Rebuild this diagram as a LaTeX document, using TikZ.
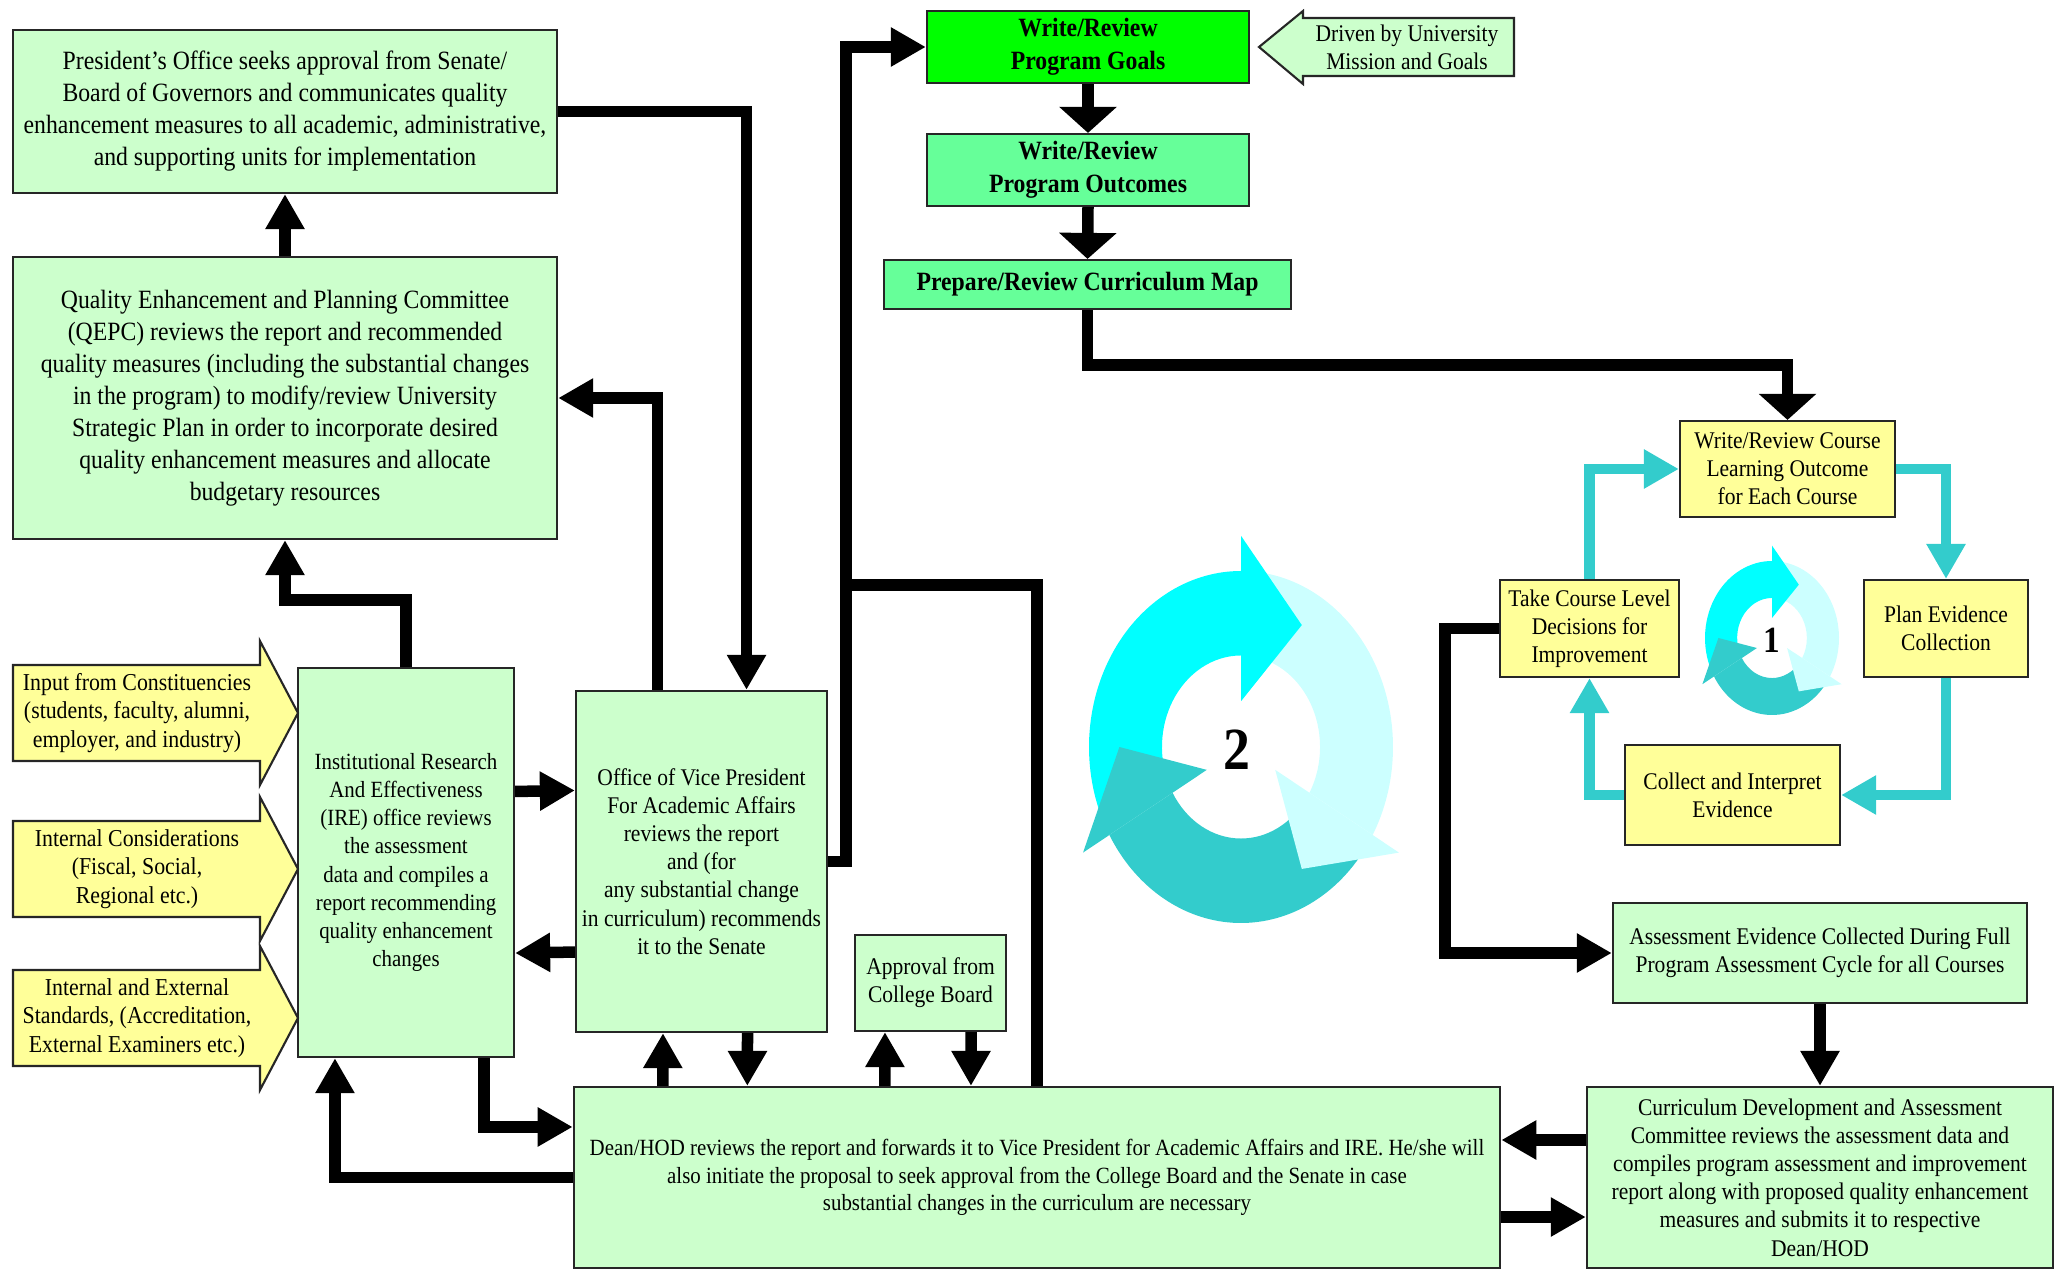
\documentclass[tikz,border=0pt]{standalone}
\usepackage{fontspec}
\setmainfont[FakeStretch=0.9]{Liberation Serif}
\usetikzlibrary{arrows.meta}

\definecolor{palegreen}{HTML}{CCFFCC}
\definecolor{brightgreen}{HTML}{00FF00}
\definecolor{midgreen}{HTML}{66FF99}
\definecolor{paleyellow}{HTML}{FFFF99}
\definecolor{cyclecyan}{HTML}{00FFFF}
\definecolor{cyclelight}{HTML}{CCFFFF}
\definecolor{cycleteal}{HTML}{33CCCC}

\begin{document}
\begin{tikzpicture}[x=0.01cm, y=-0.01cm,
  txt/.style={align=center, font=\fontsize{6.8}{8}\selectfont},
  box/.style={txt, draw=black!85, line width=0.6pt, inner sep=0pt},
  gbox/.style={box, fill=palegreen},
  ybox/.style={box, fill=paleyellow},
  bigtxt/.style={font=\fontsize{7.5}{9.1}\selectfont},
  boldtxt/.style={font=\bfseries\fontsize{7.5}{9.4}\selectfont},
  flow/.style={line width=1.15mm, -{Triangle[length=3.5mm, width=3.7mm]}},
  wideflow/.style={line width=1.15mm, -{Triangle[length=2.6mm, width=5.6mm]}},
  cflow/.style={line width=1.05mm, cycleteal, -{Triangle[length=3.5mm, width=3.7mm]}}]
  \useasboundingbox (0,0) rectangle (2060,1270);

  % Program level
  \node[box, boldtxt, fill=brightgreen, minimum width=3.22cm, minimum height=0.72cm] (goals) at (1088,47) {Write/Review\\Program Goals};
  \node[box, boldtxt, fill=midgreen, minimum width=3.22cm, minimum height=0.72cm] (outc) at (1088,170) {Write/Review\\Program Outcomes};
  \node[box, boldtxt, fill=midgreen, minimum width=4.07cm, minimum height=0.49cm] (cmap) at (1087.5,284.5) {Prepare/Review Curriculum Map};
  \filldraw[fill=palegreen, draw=black!85, line width=0.6pt] (1514,18) -- (1303,18) -- (1303,11) -- (1259,47) -- (1303,84) -- (1303,76) -- (1514,76) -- cycle;
  \node[txt] (driven) at (1407,47) {Driven by University\\Mission and Goals};

  % University level
  \node[gbox, bigtxt, minimum width=5.44cm, minimum height=1.63cm] (pres) at (285,111.5) {President's Office seeks approval from Senate/\\Board of Governors and communicates quality\\enhancement measures to all academic, administrative,\\and supporting units for implementation};
  \node[gbox, bigtxt, minimum width=5.44cm, minimum height=2.82cm] (qepc) at (285,398) {Quality Enhancement and Planning Committee\\(QEPC) reviews the report and recommended\\quality measures (including the substantial changes\\in the program) to modify/review University\\Strategic Plan in order to incorporate desired\\quality enhancement measures and allocate\\budgetary resources};
  \node[gbox, font=\fontsize{6.6}{8}\selectfont, minimum width=2.16cm, minimum height=3.89cm] (ire) at (406,862.5) {Institutional Research\\And Effectiveness\\(IRE) office reviews\\the assessment\\data and compiles a\\report recommending\\quality enhancement\\changes};
  \node[gbox, minimum width=2.51cm, minimum height=3.41cm] (vp) at (701.5,861.5) {Office of Vice President\\For Academic Affairs\\reviews the report\\and (for\\any substantial change\\in curriculum) recommends\\it to the Senate};
  \node[gbox, minimum width=1.51cm, minimum height=0.96cm] (appr) at (930.5,983) {Approval from\\College Board};
  \node[gbox, font=\fontsize{6.6}{7.8}\selectfont, minimum width=9.26cm, minimum height=1.81cm] (dean) at (1037,1177.5) {Dean/HOD reviews the report and forwards it to Vice President for Academic Affairs and IRE. He/she will\\also initiate the proposal to seek approval from the College Board and the Senate in case\\substantial changes in the curriculum are necessary};

  % Inputs
  \foreach \yc/\nm/\txt in {713/inA/{Input from Constituencies\\(students, faculty, alumni,\\employer, and industry)}, 869/inB/{Internal Considerations\\(Fiscal, Social,\\Regional etc.)}, 1018/inC/{Internal and External\\Standards, (Accreditation,\\External Examiners etc.)}} {
    \filldraw[fill=paleyellow, draw=black!85, line width=0.6pt] (13,\yc-48) -- (260,\yc-48) -- (260,\yc-72) -- (298,\yc) -- (260,\yc+72) -- (260,\yc+48) -- (13,\yc+48) -- cycle;
    \node[txt, font=\fontsize{6.9}{8.1}\selectfont] (\nm) at (137,\yc) {\txt};
  }

  % Course level
  \node[ybox, minimum width=2.15cm, minimum height=0.96cm] (wrc) at (1787.5,469) {Write/Review Course\\Learning Outcome\\for Each Course};
  \node[ybox, minimum width=1.79cm, minimum height=0.97cm] (tcl) at (1589.5,628.5) {Take Course Level\\Decisions for\\Improvement};
  \node[ybox, minimum width=1.64cm, minimum height=0.97cm] (pec) at (1946,628.5) {Plan Evidence\\Collection};
  \node[ybox, minimum width=2.15cm, minimum height=1.0cm] (cie) at (1732.5,795) {Collect and Interpret\\Evidence};
  \node[gbox, minimum width=4.14cm, minimum height=1.0cm] (ae) at (1820,953) {Assessment Evidence Collected During Full\\Program Assessment Cycle for all Courses};
  \node[gbox, minimum width=4.66cm, minimum height=1.81cm] (cdac) at (1820,1177.5) {Curriculum Development and Assessment\\Committee reviews the assessment data and\\compiles program assessment and improvement\\report along with proposed quality enhancement\\measures and submits it to respective\\Dean/HOD};

  % Cycle symbols
  \foreach \cx/\cy/\sx/\sy in {1241/747/152/176, 1772/638/67/77} {
    \begin{scope}[shift={(\cx,\cy)}, xscale=\sx, yscale=-\sy]
      \foreach \col/\a/\b in {cyclecyan/205/90, cyclelight/85/-30, cycleteal/-35/-150}
        \fill[\col] (\a:1) arc[start angle=\a, end angle=\b, radius=1] -- (\b:0.52) arc[start angle=\b, end angle=\a, radius=0.52] -- cycle;
      \foreach \col/\b in {cyclecyan/90, cyclelight/-30, cycleteal/-150}
        \fill[\col] (\b:1.2) -- ({\b-30}:0.8) -- (\b:0.26) -- cycle;
    \end{scope}
  }
  \node[font=\bfseries\fontsize{17}{17}\selectfont] (two) at (1237,750) {2};
  \node[font=\bfseries\fontsize{10.5}{10.5}\selectfont] (one) at (1772,640) {1};

  % Black connectors
  \draw[flow] (qepc.north) -- (pres.south);
  \draw[flow] (ire.north) -- ++(0,-67) -| (qepc.south);
  \draw[flow] ([xshift=-4.4mm]vp.north) |- (qepc.east);
  \draw[flow] (pres.east) -| ([xshift=4.5mm]vp.north);
  \draw[flow] (vp.east) -- ++(18,0) |- (goals.west);
  \coordinate (join) at (845,585);
  \draw[line width=1.15mm] (dean.north) |- (join);
  \draw[flow] ([yshift=7.1mm]ire.east) -- ([yshift=7.1mm]vp.west);
  \draw[flow] ([yshift=-9.05mm]vp.west) -- ([yshift=-9.05mm]ire.east);
  \draw[flow] ([xshift=7.8mm]ire.south) |- ([yshift=5.05mm]dean.west);
  \draw[flow] (dean.west) -| ([xshift=-7.1mm]ire.south);
  \draw[flow] ([xshift=-37.4mm]dean.north) -- ([xshift=-3.85mm]vp.south);
  \draw[flow] ([xshift=4.6mm]vp.south) -- ([xshift=-28.95mm]dean.north);
  \draw[flow] ([xshift=-15.2mm]dean.north) -- ([xshift=-4.55mm]appr.south);
  \draw[flow] ([xshift=4.05mm]appr.south) -- ([xshift=-6.6mm]dean.north);
  \draw[flow] ([yshift=3.75mm]cdac.west) -- ([yshift=3.75mm]dean.east);
  \draw[flow] ([yshift=-3.95mm]dean.east) -- ([yshift=-3.95mm]cdac.west);
  \draw[flow] (ae.south) -- (cdac.north);
  \draw[flow] (tcl.west) -- ++(-54,0) |- (ae.west);
  \draw[wideflow] (goals.south) -- (outc.north);
  \draw[wideflow] (outc.south) -- (cmap.north);
  \draw[wideflow] (cmap.south) -- ++(0,55) -| (wrc.north);

  % Course cycle connectors
  \draw[cflow] (tcl.north) |- (wrc.west);
  \draw[cflow] (wrc.east) -| (pec.north);
  \draw[cflow] (pec.south) |- (cie.east);
  \draw[cflow] (cie.west) -| (tcl.south);
\end{tikzpicture}
\end{document}
